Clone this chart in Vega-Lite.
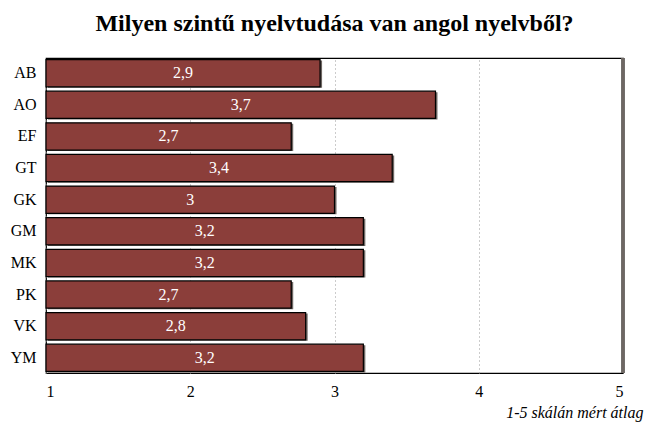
{
  "$schema": "https://vega.github.io/schema/vega-lite/v6.json",
  "width": 577,
  "height": 315,
  "autosize": {"type": "none"},
  "padding": {"left": 46, "top": 58, "right": 48, "bottom": 52},
  "background": "white",
  "title": {
    "text": "Milyen szintű nyelvtudása van angol nyelvből?",
    "font": "Liberation Serif",
    "fontSize": 24,
    "fontWeight": "bold",
    "color": "black",
    "anchor": "middle",
    "offset": 21
  },
  "data": {
    "values": [
      {"kod": "AB", "atlag": 2.9, "felirat": "2,9"},
      {"kod": "AO", "atlag": 3.7, "felirat": "3,7"},
      {"kod": "EF", "atlag": 2.7, "felirat": "2,7"},
      {"kod": "GT", "atlag": 3.4, "felirat": "3,4"},
      {"kod": "GK", "atlag": 3.0, "felirat": "3"},
      {"kod": "GM", "atlag": 3.2, "felirat": "3,2"},
      {"kod": "MK", "atlag": 3.2, "felirat": "3,2"},
      {"kod": "PK", "atlag": 2.7, "felirat": "2,7"},
      {"kod": "VK", "atlag": 2.8, "felirat": "2,8"},
      {"kod": "YM", "atlag": 3.2, "felirat": "3,2"}
    ]
  },
  "layer": [
    {
      "mark": {"type": "bar", "fill": "#6e6763", "xOffset": 2, "x2Offset": 2, "yOffset": 1, "y2Offset": 1},
      "encoding": {
        "y": {
          "field": "kod",
          "type": "nominal",
          "sort": null,
          "scale": {"paddingInner": 0.14, "paddingOuter": 0.05},
          "axis": {
            "title": null,
            "domain": false,
            "ticks": false,
            "labelFont": "Liberation Serif",
            "labelFontSize": 16,
            "labelPadding": 10
          }
        },
        "x": {
          "field": "atlag",
          "type": "quantitative",
          "scale": {"domain": [1, 5], "nice": false, "zero": false},
          "axis": {
            "values": [1, 2, 3, 4, 5],
            "format": "d",
            "grid": true,
            "gridColor": "#999999",
            "gridDash": [1, 3],
            "gridWidth": 1,
            "domain": false,
            "ticks": false,
            "labelFont": "Liberation Serif",
            "labelFontSize": 16,
            "labelPadding": 10,
            "title": "1-5 skálán mért átlag",
            "titleFont": "Liberation Serif",
            "titleFontSize": 16,
            "titleFontStyle": "italic",
            "titleFontWeight": "normal",
            "titleAlign": "right",
            "titleAnchor": "end",
            "titleBaseline": "alphabetic",
            "titleX": 597,
            "titleY": 44
          }
        },
        "x2": {"datum": 1}
      }
    },
    {
      "mark": {"type": "bar", "fill": "#8b3e3a", "stroke": "black", "strokeWidth": 1.2},
      "encoding": {
        "y": {"field": "kod", "type": "nominal", "sort": null},
        "x": {"field": "atlag", "type": "quantitative"},
        "x2": {"datum": 1}
      }
    },
    {
      "transform": [{"calculate": "(datum.atlag + 1) / 2", "as": "kozep"}],
      "mark": {"type": "text", "color": "white", "font": "Liberation Serif", "fontSize": 16, "align": "center", "baseline": "middle"},
      "encoding": {
        "y": {"field": "kod", "type": "nominal", "sort": null},
        "x": {"field": "kozep", "type": "quantitative"},
        "text": {"field": "felirat"}
      }
    },
    {
      "mark": {"type": "rule", "color": "#6e6763", "strokeWidth": 2.5},
      "encoding": {"x": {"datum": 5}}
    }
  ],
  "config": {
    "view": {"stroke": "black", "strokeWidth": 1.2},
    "axis": {
      "gridOpacity": 1,
      "labelColor": "black",
      "titleColor": "black"
    }
  }
}
